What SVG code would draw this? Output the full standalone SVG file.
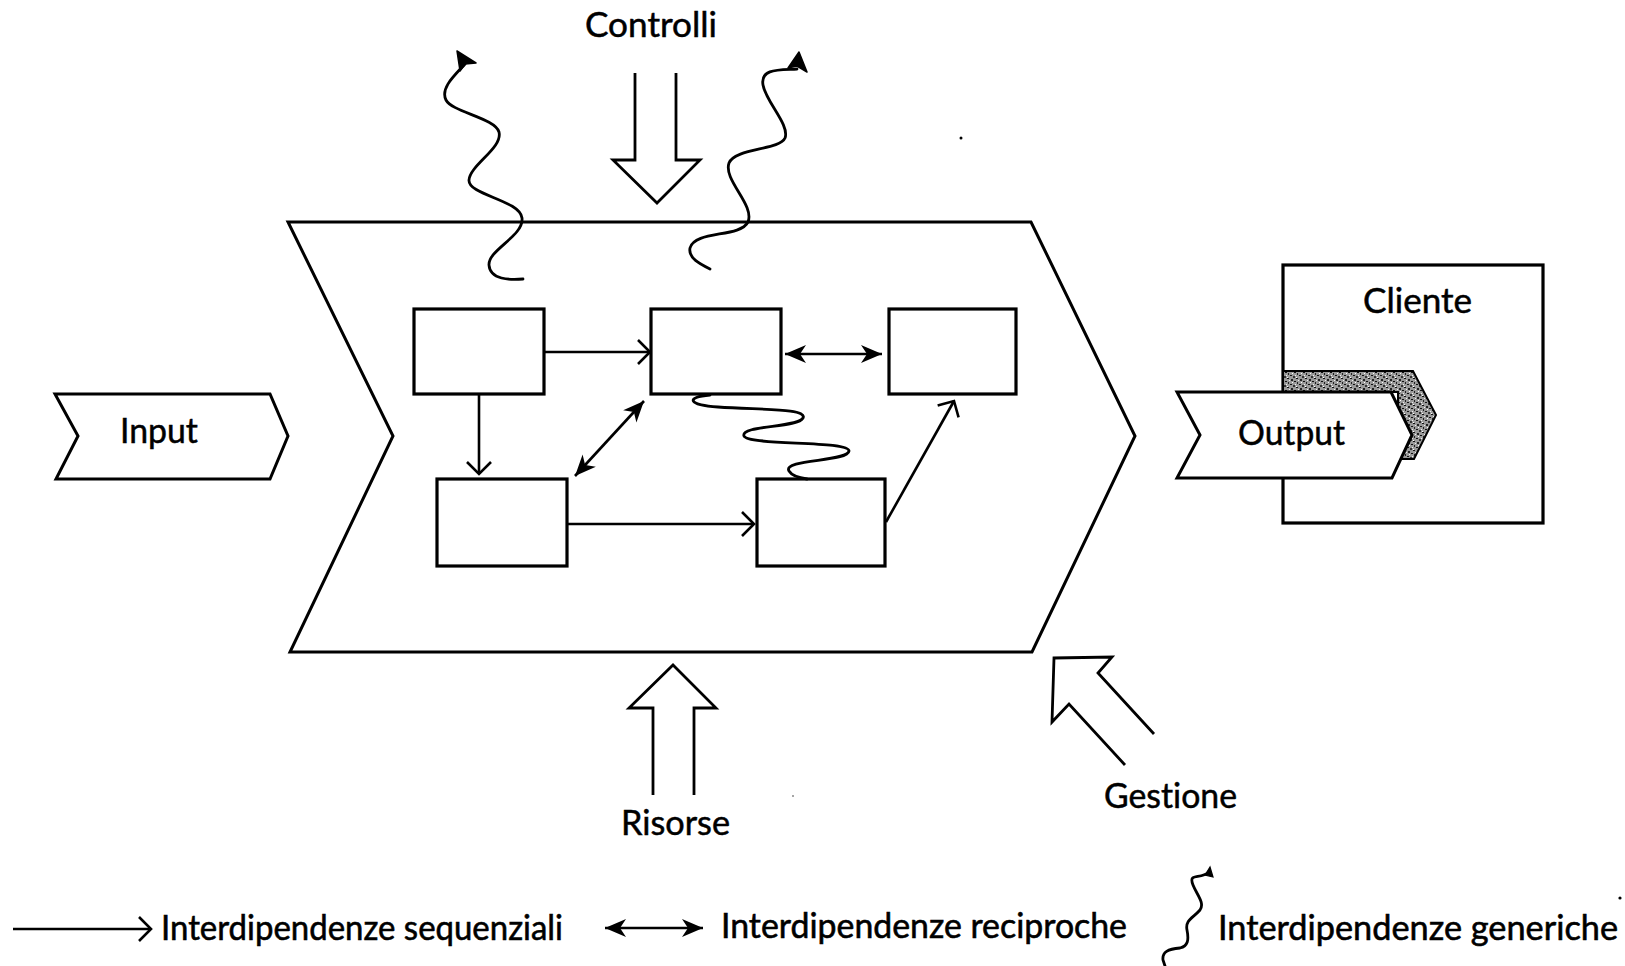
<svg xmlns="http://www.w3.org/2000/svg" width="1625" height="966" viewBox="0 0 1625 966">
<style>
.shape{fill:#fff;stroke:#000;stroke-width:3;stroke-linejoin:miter}
.box{fill:#fff;stroke:#000;stroke-width:3.2}
.open{fill:none;stroke:#000;stroke-width:2.8;stroke-linejoin:miter}
.conn{fill:none;stroke:#000;stroke-width:2.6}
.wave{fill:none;stroke:#000;stroke-width:2.8;stroke-linecap:round}
.lbl{font-family:Lato,"Open Sans",sans-serif;font-size:34px;fill:#000;stroke:#000;stroke-width:0.5;font-variant-ligatures:none;font-feature-settings:"liga" 0,"dlig" 0}
.leg{font-family:Lato,"Open Sans",sans-serif;font-size:35px;fill:#000;stroke:#000;stroke-width:0.6;font-variant-ligatures:none;font-feature-settings:"liga" 0,"dlig" 0}
</style>
<defs>
<marker id="seq" markerUnits="userSpaceOnUse" viewBox="0 0 16 28" refX="14" refY="14" markerWidth="16" markerHeight="28" orient="auto-start-reverse">
<path d="M2,2 L14,14 L2,26" fill="none" stroke="#000" stroke-width="2.6"/>
</marker>
<marker id="rec" markerUnits="userSpaceOnUse" viewBox="0 0 22 20" refX="21" refY="10" markerWidth="22" markerHeight="20" orient="auto-start-reverse">
<path d="M21,10 L0,1 L6,10 L0,19 z" fill="#000"/>
</marker>
<pattern id="stip" patternUnits="userSpaceOnUse" width="9" height="9">
<rect width="9" height="9" fill="#9a9a9a"/>
<rect x="0" y="0" width="2" height="1" fill="#111"/>
<rect x="4" y="1" width="2" height="2" fill="#222"/>
<rect x="7" y="3" width="2" height="1" fill="#111"/>
<rect x="1" y="4" width="1" height="2" fill="#222"/>
<rect x="3" y="6" width="2" height="1" fill="#111"/>
<rect x="6" y="7" width="2" height="2" fill="#333"/>
<rect x="2" y="2" width="1" height="1" fill="#eee"/>
<rect x="5" y="4" width="1" height="1" fill="#fff"/>
<rect x="8" y="6" width="1" height="1" fill="#eee"/>
<rect x="0" y="8" width="1" height="1" fill="#fff"/>
</pattern>
</defs>

<g id="process">
<polygon class="shape" points="288,222 1031,222 1135,436 1032,652 290,652 393,436"/>
</g>

<g id="input">
<polygon class="shape" points="55,394 270,394 288,436 270,479 56,479 78,436"/>
<text class="lbl" x="120" y="443" textLength="78" lengthAdjust="spacingAndGlyphs">Input</text>
</g>

<g id="cliente">
<rect class="box" x="1283" y="265" width="260" height="258"/>
<text class="lbl" x="1363" y="313" textLength="109" lengthAdjust="spacingAndGlyphs">Cliente</text>
<polygon points="1283,371 1413,371 1436,415 1414,459 1398,459 1398,392 1283,392" fill="url(#stip)" stroke="#000" stroke-width="2"/>
</g>

<g id="output">
<polygon class="shape" points="1177,392 1391,392 1412,435 1392,478 1177,478 1200,435"/>
<text class="lbl" x="1238" y="445" textLength="107" lengthAdjust="spacingAndGlyphs">Output</text>
</g>

<g id="controlli">
<path class="open" d="M635,73 L635,160 L613,160 L657,203 L700,160 L676,160 L676,73"/>
<text class="lbl" x="585" y="37" textLength="132" lengthAdjust="spacingAndGlyphs">Controlli</text>
</g>

<g id="risorse">
<path class="open" d="M653,795 L653,708 L629,708 L673,665 L716,708 L694,708 L694,795"/>
<text class="lbl" x="621" y="835" textLength="109" lengthAdjust="spacingAndGlyphs">Risorse</text>
</g>

<g id="gestione">
<path class="open" d="M1125,765 L1069,704 L1052,722 L1054,658 L1112,657 L1098,673 L1154,734"/>
<text class="lbl" x="1104" y="808" textLength="133" lengthAdjust="spacingAndGlyphs">Gestione</text>
</g>

<g id="a1"><rect class="box" x="414" y="309" width="130" height="85"/></g>
<g id="a2"><rect class="box" x="651" y="309" width="130" height="85"/></g>
<g id="a3"><rect class="box" x="889" y="309" width="127" height="85"/></g>
<g id="a4"><rect class="box" x="437" y="479" width="130" height="87"/></g>
<g id="a5"><rect class="box" x="757" y="479" width="128" height="87"/></g>

<g id="connectors">
<line class="conn" x1="544" y1="352" x2="650" y2="352" marker-end="url(#seq)"/>
<line class="conn" x1="479" y1="394" x2="479" y2="474" marker-end="url(#seq)"/>
<line class="conn" x1="567" y1="524" x2="754" y2="524" marker-end="url(#seq)"/>
<line class="conn" x1="886" y1="522" x2="954" y2="401" marker-end="url(#seq)"/>
<line class="conn" x1="785" y1="354" x2="882" y2="354" marker-start="url(#rec)" marker-end="url(#rec)"/>
<line class="conn" x1="575" y1="476" x2="644" y2="401" marker-start="url(#rec)" marker-end="url(#rec)"/>
<path class="wave" d="M710,395 C685,397 688,405 718,407 C760,410 808,408 803,418 C798,428 740,425 744,436 C748,446 850,440 849,451 C848,462 782,459 789,471 C792,476 800,478 807,479"/>
<path class="wave" d="M465,64 C455,75 440,88 446,100 C452,112 495,118 499,132 C503,148 470,165 469,180 C468,195 520,200 522,218 C524,236 488,250 489,265 C490,280 510,280 523,279"/>
<polygon points="457,51 460,71 465,64 476,63" fill="#000" stroke="#000" stroke-width="1.5" stroke-linejoin="round"/>
<path class="wave" d="M797,69 C780,70 760,68 763,85 C766,102 790,125 785,138 C780,150 735,148 729,163 C723,180 755,205 748,222 C740,238 695,230 690,248 C688,258 700,264 710,269"/>
<polygon points="799,52 788,68 797,66 807,72" fill="#000" stroke="#000" stroke-width="1.5" stroke-linejoin="round"/>
</g>

<g id="legend">
<line class="conn" x1="13" y1="929" x2="151" y2="929" marker-end="url(#seq)"/>
<text class="leg" x="161" y="940" textLength="402" lengthAdjust="spacingAndGlyphs">Interdipendenze sequenziali</text>
<line class="conn" x1="605" y1="928" x2="703" y2="928" marker-start="url(#rec)" marker-end="url(#rec)"/>
<text class="leg" x="721" y="938" textLength="406" lengthAdjust="spacingAndGlyphs">Interdipendenze reciproche</text>
<path class="wave" d="M1209,872 C1200,880 1188,872 1193,885 C1197,895 1205,903 1200,910 C1193,918 1185,920 1187,930 C1189,940 1188,946 1180,948 C1168,949 1162,952 1163,960 L1165,966"/>
<polygon points="1210,867 1205,875 1213,877" fill="#000" stroke="#000" stroke-width="1.2"/>
<text class="leg" x="1218" y="940" textLength="400" lengthAdjust="spacingAndGlyphs">Interdipendenze generiche</text>
<circle cx="1620" cy="898" r="1.6" fill="#000"/>
</g>
<circle cx="961" cy="138" r="1.5" fill="#000"/>
<circle cx="793" cy="796" r="1" fill="#888"/>
</svg>
